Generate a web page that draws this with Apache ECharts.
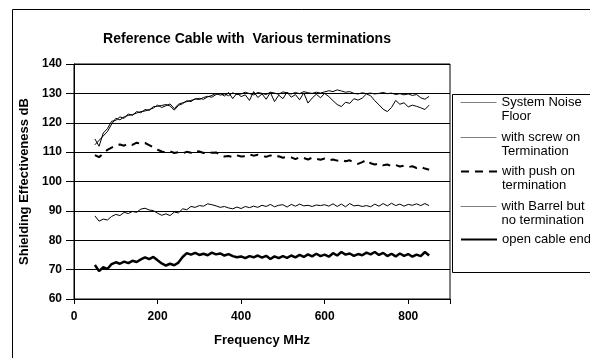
<!DOCTYPE html>
<html>
<head>
<meta charset="utf-8">
<script src="https://cdn.jsdelivr.net/npm/echarts@6/dist/echarts.min.js"></script>
<style>
  html, body { margin: 0; padding: 0; background: #fff; }
  #chart { width: 590px; height: 358px; }
</style>
</head>
<body>
<div id="chart"></div>
<script>
// frequency points (MHz)
const freq = [50, 60, 70, 80, 90, 100, 110, 120, 130, 140, 150, 160, 170, 180, 190, 200,
  210, 220, 230, 240, 250, 260, 270, 280, 290, 300, 310, 320, 330, 340, 350, 360, 370, 380,
  390, 400, 410, 420, 430, 440, 450, 460, 470, 480, 490, 500, 510, 520, 530, 540, 550, 560,
  570, 580, 590, 600, 610, 620, 630, 640, 650, 660, 670, 680, 690, 700, 710, 720, 730, 740,
  750, 760, 770, 780, 790, 800, 810, 820, 830, 840, 850];

const noiseFloor = [112.5, 114, 115.5, 117, 119.5, 121.5, 121, 122, 122.5, 122.8, 123.3, 123.8,
  124, 124.5, 125, 126, 125.2, 125.8, 126.4, 124.8, 126.3, 126.8, 127.2, 127.6, 128, 128.3, 128,
  128.8, 129.3, 130, 129.4, 129.8, 129.2, 130.2, 129.6, 129.8, 130.4, 129.9, 129.5, 130.3, 130,
  129.6, 130.4, 130.1, 129.7, 130.5, 130.2, 129.8, 130.3, 129.9, 130.6, 130.2, 130, 130.4, 130.1,
  130.5, 130.9, 130.6, 131.2, 130.8, 130.4, 130.6, 130, 129.8, 130.2, 129.9, 130.1, 129.8, 130,
  130.3, 129.9, 130.1, 129.6, 129.9, 129.5, 129.8, 129.3, 129.6, 128.5, 128, 129];

const screwOn = [114.5, 112, 116.5, 118, 120.5, 120.8, 122, 121.5, 123, 122.5, 123.8, 123.4,
  124.5, 124.2, 125.5, 125.6, 125.9, 126.2, 125.7, 124.3, 125.9, 126.5, 127.5, 127.2, 128.2,
  127.9, 128.6, 129, 128.7, 129.6, 130, 129.1, 130.3, 128.2, 130.1, 128.9, 129.5, 127.6, 130.6,
  128.6, 129.8, 128, 130.3, 127.2, 129.4, 128.2, 130.4, 128.7, 129.6, 127.8, 130.2, 126.7, 128.4,
  129.7, 128.5, 130, 128.9, 127.5, 126.2, 125.5, 127, 126.6, 128.2, 127.7, 128.4, 129.8, 129.2,
  127.5, 126.1, 124.6, 123.8, 125.2, 127.6, 126.3, 126.8, 125.4, 126, 125.6, 125.1, 124.5, 126];

const pushOn = [109, 108.3, 109.5, 110.8, 111.5, 112.3, 112.6, 112.2, 112.9, 112.5, 113.2, 112.8,
  113.1, 112.4, 111.6, 110.8, 110.2, 109.8, 110.3, 109.7, 110, 109.6, 110.1, 109.8, 110.4, 110.2,
  109.7, 110.1, 109.8, 109.9, 109, 108.5, 108.7, 108.3, 108.9, 108.5, 108.6, 109.2, 108.8, 109.1,
  108.7, 108.4, 108.9, 108.3, 108.6, 108.1, 108.4, 108.2, 107.6, 108.3, 108, 107.5, 108.1, 107.7,
  107.4, 107.8, 107.2, 107.5, 107.1, 107.4, 106.9, 107.2, 106.4, 106, 106.6, 107.3, 106.2, 105.8,
  106.1, 105.5, 105.8, 105.2, 105.6, 105.1, 105.4, 104.9, 105.2, 104.6, 104.9, 104.4, 104];

const barrel = [88.3, 86.5, 87.2, 86.9, 88.1, 88.8, 88.4, 89.5, 89.1, 89.8, 89.5, 90.6, 90.9,
  90.3, 90.1, 89.2, 88.5, 89, 88.4, 89.6, 89.3, 90.7, 90.4, 91.5, 91.2, 91.8, 91.6, 92.4, 92.1,
  91.7, 91.2, 91.5, 91, 90.7, 91.3, 90.8, 91.5, 91.1, 91.6, 91.2, 91.9, 91.5, 92.2, 91.4, 91.9,
  92.1, 91.3, 92.2, 91.6, 92.3, 91.7, 91.9, 91.5, 92, 91.8, 92.1, 91.6, 92.4, 91.5, 92.3, 91.4,
  92.5, 91.7, 91.9, 91.5, 91.8, 91.4, 92.3, 91.6, 92.5, 91.7, 92.6, 91.8, 92.3, 91.6, 92.2, 91.9,
  92.4, 91.8, 92.5, 91.8];

const openEnd = [71.6, 69.5, 70.8, 70.2, 71.9, 72.5, 72, 72.7, 72.2, 73, 72.6, 73.5, 74.2, 73.6,
  74.3, 73.2, 72.1, 71.4, 72, 71.5, 72.4, 74.3, 75.6, 75.1, 75.7, 75, 75.4, 74.9, 75.8, 75.2,
  75.5, 74.8, 75.3, 74.6, 74.2, 74.5, 73.9, 74.6, 74.2, 74.8, 74.1, 74.7, 73.6, 74.5, 73.9, 74.6,
  74, 74.8, 74.2, 75, 74.3, 75.2, 74.5, 75.4, 74.6, 75.1, 74.4, 75.6, 74.8, 76, 75.1, 75.5, 74.7,
  75.3, 74.9, 75.8, 75.2, 76, 75, 75.7, 74.6, 75.4, 74.5, 75.5, 74.7, 75.3, 74.4, 75.1, 74.6, 76,
  74.8];

const seriesNames = ['System Noise Floor', 'with screw on Termination', 'with push on termination',
  'with Barrel but no termination', 'open cable end'];
const legendLabels = ['System Noise\nFloor', 'with screw on\nTermination', 'with push on\ntermination',
  'with Barrel but\nno termination', 'open cable end'];

const font = '"Liberation Sans", Arial, sans-serif';

const pairs = vals => freq.map((f, i) => [f, vals[i]]);

// line looks per series
const lineLooks = [
  { color: '#000', width: 1, type: 'solid' },
  { color: '#000', width: 1, type: 'solid' },
  { color: '#000', width: 2, type: [8, 6] },
  { color: '#000', width: 1, type: 'solid' },
  { color: '#000', width: 2.5, type: 'solid' }
];
// legend samples of the thin lines come out grey in the original
const legendLooks = [
  { color: '#808080', width: 1, type: 'solid' },
  { color: '#808080', width: 1, type: 'solid' },
  { color: '#000', width: 2, type: [8, 6] },
  { color: '#808080', width: 1, type: 'solid' },
  { color: '#000', width: 2, type: 'solid' }
];

const chart = echarts.init(document.getElementById('chart'), null, { renderer: 'canvas' });

// one legend block per item so each sample line sits against the first text line
const legendTops = [103, 138, 172, 207, 240];
const legends = seriesNames.map((name, i) => {
  const twoLine = legendLabels[i].indexOf('\n') >= 0;
  return {
    data: [name],
    orient: 'vertical',
    left: 460,
    top: legendTops[i] - (twoLine ? 21 : 7),
    padding: 0,
    itemWidth: 36,
    itemHeight: 10,
    selectedMode: false,
    itemStyle: { opacity: 0, borderWidth: 0 },
    lineStyle: legendLooks[i],
    formatter: () => twoLine ? '{d|' + legendLabels[i] + '}' : '{s|' + legendLabels[i] + '}',
    textStyle: {
      fontFamily: font,
      fontSize: 13,
      color: '#000',
      rich: {
        d: { fontFamily: font, fontSize: 13, lineHeight: 14, padding: [14, 0, 0, 0], color: '#000' },
        s: { fontFamily: font, fontSize: 13, lineHeight: 14, color: '#000' }
      }
    }
  };
});

const values = [noiseFloor, screwOn, pushOn, barrel, openEnd];

const option = {
  backgroundColor: '#fff',
  animation: false,
  title: {
    text: 'Reference Cable with  Various terminations',
    left: 242,
    textAlign: 'center',
    top: 27,
    textStyle: { fontFamily: font, fontSize: 14, fontWeight: 'bold', color: '#000' }
  },
  legend: legends,
  grid: {
    left: 74,
    top: 64,
    width: 376,
    height: 235,
    show: true,
    borderColor: '#000',
    borderWidth: 1,
    backgroundColor: '#fff'
  },
  xAxis: {
    type: 'value',
    min: 0,
    max: 900,
    interval: 200,
    name: 'Frequency MHz',
    nameLocation: 'middle',
    nameGap: 35,
    nameTextStyle: { fontFamily: font, fontSize: 13, fontWeight: 'bold', color: '#000' },
    axisLine: { show: true, lineStyle: { color: '#000', width: 1 } },
    axisTick: { show: true, length: 5, lineStyle: { color: '#000' } },
    axisLabel: {
      margin: 12,
      fontFamily: font,
      fontSize: 12,
      fontWeight: 'bold',
      color: '#000',
      formatter: v => (v % 200 === 0 ? String(v) : '')
    },
    splitLine: { show: false }
  },
  yAxis: {
    type: 'value',
    min: 60,
    max: 140,
    interval: 10,
    name: 'Shielding Effectiveness dB',
    nameLocation: 'middle',
    nameGap: 37,
    nameTextStyle: { fontFamily: font, fontSize: 13, fontWeight: 'bold', color: '#000' },
    axisLine: { show: true, lineStyle: { color: '#000', width: 1 } },
    axisTick: { show: true, length: 8, lineStyle: { color: '#000' } },
    axisLabel: { margin: 12, fontFamily: font, fontSize: 12, fontWeight: 'bold', color: '#000' },
    splitLine: { show: true, lineStyle: { color: '#000', width: 1 } }
  },
  graphic: [
    // outer chart frame, runs off the right and bottom of the picture
    { type: 'rect', left: 10, top: 7, shape: { width: 620, height: 400 },
      style: { fill: 'none', stroke: '#000', lineWidth: 1 }, z: -10 },
    // legend box
    { type: 'rect', left: 450, top: 92, shape: { width: 200, height: 178 },
      style: { fill: 'none', stroke: '#000', lineWidth: 1 }, z: 10 }
  ],
  series: seriesNames.map((name, i) => ({
    name: name,
    type: 'line',
    data: pairs(values[i]),
    symbol: 'none',
    lineStyle: lineLooks[i],
    itemStyle: { color: '#000' }
  }))
};

chart.setOption(option);
</script>
</body>
</html>
